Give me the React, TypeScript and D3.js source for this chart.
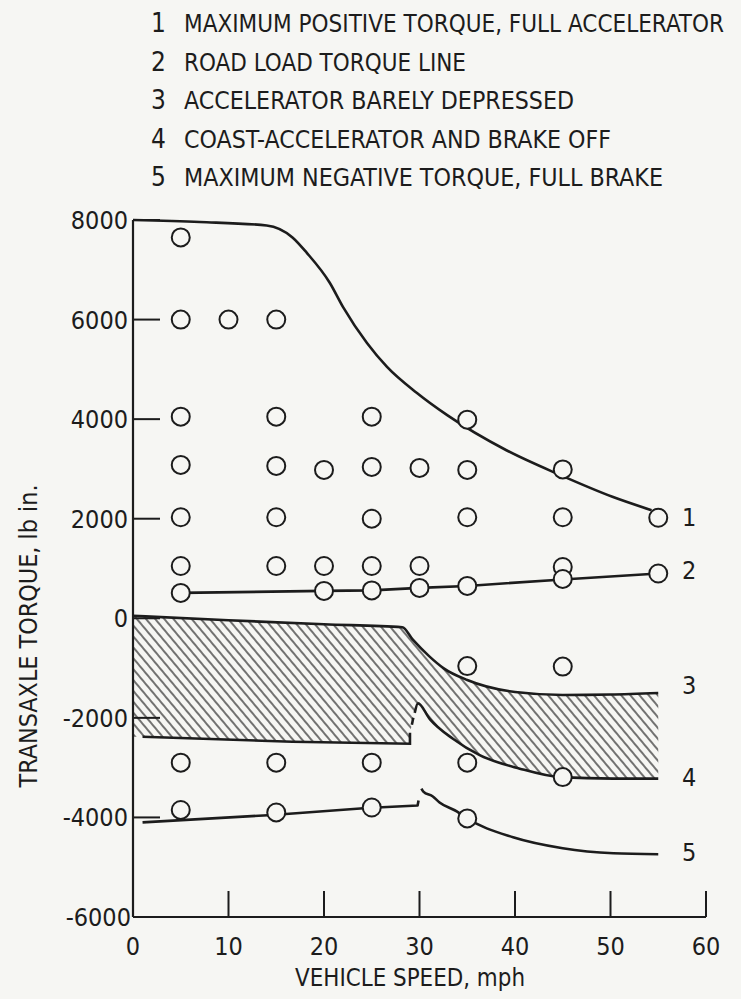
import React from "react";
import * as d3 from "d3";

// chart data
const speedTicks = [0, 10, 20, 30, 40, 50, 60];
const torqueTicks = [8000, 6000, 4000, 2000, 0, -2000, -4000, -6000];

const legendLabels = [
  "MAXIMUM POSITIVE TORQUE, FULL ACCELERATOR",
  "ROAD LOAD TORQUE LINE",
  "ACCELERATOR BARELY DEPRESSED",
  "COAST-ACCELERATOR AND BRAKE OFF",
  "MAXIMUM NEGATIVE TORQUE, FULL BRAKE",
];

type Pt = [number, number];

// 1 - max positive torque, full accelerator
const maxPositive: Pt[] = [
  [0, 8000], [7, 7960], [14, 7890], [16.7, 7650], [18.2, 7340], [20.6, 6740],
  [22, 6250], [24.5, 5530], [26.6, 5050], [29.7, 4530], [32.9, 4080],
  [39.1, 3375], [44.7, 2880], [50.2, 2440], [54.3, 2170],
];

// 2 - road load torque line
const roadLoad: Pt[] = [
  [5, 510], [20, 550], [25, 560], [30, 610], [35, 650], [45, 780], [55, 900],
];

// 3 - accelerator barely depressed (top of hatched band)
const barelyDepressed: Pt[] = [
  [0, 50], [10, -40], [20, -120], [28.2, -180], [29.3, -430], [31, -760],
  [32.5, -1000], [35, -1240], [40, -1480], [45, -1540], [50, -1530], [55, -1500],
];

// 4 - coast, accelerator and brake off (three pieces around 30 mph)
const coastLow: Pt[] = [[1, -2380], [16.7, -2480], [29, -2520], [29, -2300]];
const coastDash: Pt[] = [[29.2, -2140], [29.35, -2000]];
const coastHigh: Pt[] = [
  [29.5, -1900], [29.84, -1710], [31.1, -2030], [33.5, -2420], [36.3, -2750],
  [40.5, -3020], [44.7, -3190], [50.3, -3220], [55, -3220],
];

// 5 - max negative torque, full brake
const brakeLow: Pt[] = [[1, -4100], [14.6, -3950], [24.5, -3810], [29.8, -3760], [29.9, -3660]];
const brakeHigh: Pt[] = [
  [30.2, -3420], [30.4, -3480], [31.4, -3580], [32.1, -3700], [33.9, -3880],
  [34.8, -4000], [39.8, -4400], [45, -4620], [50.3, -4720], [55, -4740],
];

// test points (open circles)
const testPoints: Pt[] = [
  [5, 7650], [5, 6000], [5, 4050], [5, 3080], [5, 2030], [5, 1050], [5, 510], [5, -2900], [5, -3850],
  [10, 6000],
  [15, 6000], [15, 4050], [15, 3060], [15, 2030], [15, 1050], [15, -2900], [15, -3900],
  [20, 2980], [20, 1050], [20, 550],
  [25, 4050], [25, 3040], [25, 2000], [25, 1050], [25, 560], [25, -2900], [25, -3800],
  [30, 3020], [30, 1050], [30, 610],
  [35, 3990], [35, 2980], [35, 2030], [35, 650], [35, -960], [35, -2900], [35, -4020],
  [45, 2990], [45, 2030], [45, 1030], [45, 790], [45, -970], [45, -3190],
  [55, 2020], [55, 900],
];

const curveNumbers = ["1", "2", "3", "4", "5"];
const curveNumberTorque = [2030, 960, -1340, -3190, -4700];

const W = 741;
const H = 999;
const bg = "#f6f6f3";
const ink = "#1c1c1c";
const font = "'Liberation Sans Narrow', 'DejaVu Sans Condensed', 'Arial Narrow', sans-serif";
const legendWidths = [540, 282, 390, 427, 479];

export default function App() {
  const x = d3.scaleLinear().domain([0, 60]).range([133, 706]);
  const y = d3.scaleLinear().domain([-6000, 8000]).range([917, 220]);

  const smooth = d3.line<Pt>().x((d) => x(d[0])).y((d) => y(d[1])).curve(d3.curveMonotoneX);
  const straight = d3.line<Pt>().x((d) => x(d[0])).y((d) => y(d[1]));

  // hatched band between curve 3 and curve 4
  const last = coastHigh[coastHigh.length - 1];
  const band =
    smooth(barelyDepressed) +
    `L${x(last[0])},${y(barelyDepressed[barelyDepressed.length - 1][1])}` +
    (smooth([...coastHigh].reverse()) as string).replace(/^M/, "L") +
    (straight([...coastDash].reverse()) as string).replace(/^M/, "L") +
    (straight([...coastLow].reverse()) as string).replace(/^M/, "L") +
    `L${x(0)},${y(coastLow[0][1])}Z`;

  const lineStyle = { fill: "none", stroke: ink, strokeWidth: 2.6, strokeLinejoin: "round" as const };

  return (
    <svg width={W} height={H} style={{ position: "absolute", left: 0, top: 0 }} fontFamily={font}>
      <defs>
        <pattern id="hatch" patternUnits="userSpaceOnUse" width={7} height={7} patternTransform="rotate(-40)">
          <line x1={1} y1={-1} x2={1} y2={8} stroke="#2a2a2a" strokeWidth={1.3} />
        </pattern>
      </defs>
      <rect width={W} height={H} fill={bg} />

      {/* legend */}
      {legendLabels.map((label, i) => (
        <g key={label} fill={ink} fontSize={24}>
          <text x={151} y={32 + i * 38.5} fontSize={26}>{i + 1}</text>
          <text x={184} y={32 + i * 38.5} textLength={legendWidths[i]} lengthAdjust="spacingAndGlyphs">
            {label}
          </text>
        </g>
      ))}

      {/* hatched band */}
      <path d={band} fill="url(#hatch)" stroke="none" />

      {/* axes */}
      <line x1={x(0)} x2={x(0)} y1={y(8000)} y2={y(-6000)} stroke={ink} strokeWidth={2.2} />
      <line x1={x(0)} x2={x(60)} y1={y(-6000)} y2={y(-6000)} stroke={ink} strokeWidth={2.2} />
      {torqueTicks.filter((t) => t !== -6000).map((t) => (
        <line key={t} x1={x(0)} x2={x(0) + 27} y1={y(t)} y2={y(t)} stroke={ink} strokeWidth={2} />
      ))}
      {speedTicks.filter((s) => s !== 0).map((s) => (
        <line key={s} x1={x(s)} x2={x(s)} y1={y(-6000)} y2={y(-6000) - 26} stroke={ink} strokeWidth={2} />
      ))}
      {torqueTicks.map((t) => (
        <text key={t} x={t === -6000 ? 131 : 128} y={y(t)} dy="0.36em" textAnchor="end" fontSize={25} fill={ink}>
          {t}
        </text>
      ))}
      {speedTicks.map((s) => (
        <text key={s} x={x(s)} y={955} textAnchor="middle" fontSize={25} fill={ink}>
          {s}
        </text>
      ))}
      <text x={410} y={986} textAnchor="middle" fontSize={25} fill={ink} textLength={230} lengthAdjust="spacingAndGlyphs">
        VEHICLE SPEED, mph
      </text>
      <text transform="translate(37,636) rotate(-90)" textAnchor="middle" fontSize={25} fill={ink} textLength={303} lengthAdjust="spacingAndGlyphs">
        TRANSAXLE TORQUE, lb in.
      </text>

      {/* curves */}
      <path d={smooth(maxPositive) as string} {...lineStyle} />
      <path d={straight(roadLoad) as string} {...lineStyle} />
      <path d={smooth(barelyDepressed) as string} {...lineStyle} />
      <path d={straight(coastLow) as string} {...lineStyle} strokeLinejoin="miter" />
      <path d={straight(coastDash) as string} {...lineStyle} />
      <path d={smooth(coastHigh) as string} {...lineStyle} />
      <path d={straight(brakeLow) as string} {...lineStyle} />
      <path d={smooth(brakeHigh) as string} {...lineStyle} />

      {/* test points */}
      {testPoints.map((p, i) => (
        <circle key={i} cx={x(p[0])} cy={y(p[1])} r={9} fill={bg} stroke={ink} strokeWidth={2} />
      ))}

      {/* curve numbers */}
      {curveNumbers.map((n, i) => (
        <text key={n} x={682} y={y(curveNumberTorque[i])} dy="0.36em" fontSize={25} fill={ink}>
          {n}
        </text>
      ))}
    </svg>
  );
}
